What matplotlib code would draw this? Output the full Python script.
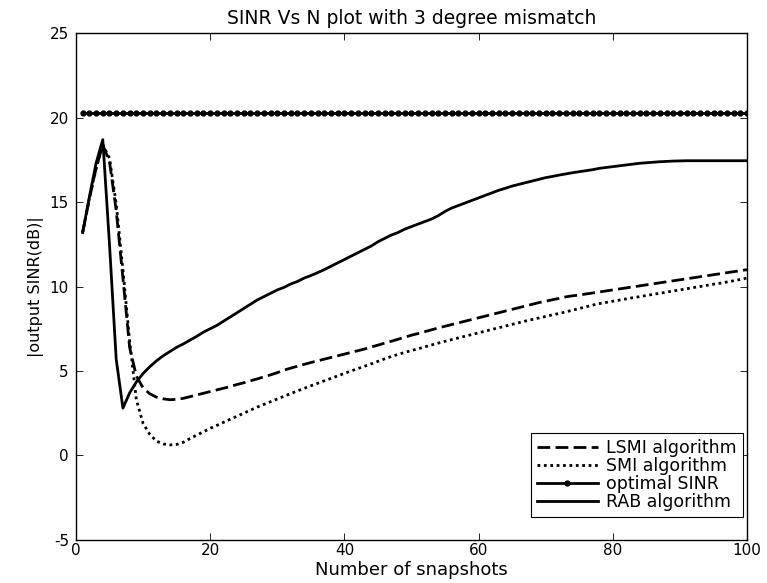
import matplotlib.pyplot as plt
import numpy as np

plt.rcParams["font.family"] = ["DejaVu Sans"]
plt.rcParams["axes.unicode_minus"] = False

snapshots = list(range(1, 101))

lsmi = [
    13.2, 15.2, 17.0, 18.4, 17.4, 14.5, 10.5, 6.4, 4.7, 4.0,
    3.65, 3.45, 3.35, 3.3, 3.32, 3.38, 3.48, 3.58, 3.68, 3.78,
    3.88, 3.98, 4.08, 4.2, 4.3, 4.42, 4.53, 4.65, 4.77, 4.9,
    5.05, 5.17, 5.28, 5.39, 5.5, 5.6, 5.7, 5.8, 5.9, 6.0,
    6.1, 6.2, 6.3, 6.42, 6.53, 6.65, 6.76, 6.88, 7.0, 7.12,
    7.22, 7.33, 7.44, 7.55, 7.65, 7.75, 7.85, 7.95, 8.05, 8.15,
    8.25, 8.35, 8.45, 8.55, 8.65, 8.75, 8.85, 8.95, 9.05, 9.13,
    9.22, 9.3, 9.39, 9.45, 9.5, 9.56, 9.62, 9.68, 9.74, 9.8,
    9.86, 9.92, 9.98, 10.04, 10.1, 10.16, 10.22, 10.28, 10.34, 10.4,
    10.46, 10.52, 10.58, 10.64, 10.7, 10.76, 10.82, 10.88, 10.94, 11.0,
]

smi = [
    13.2, 15.2, 17.0, 18.4, 17.6, 14.9, 11.0, 6.8, 3.3, 1.9,
    1.25, 0.85, 0.68, 0.62, 0.65, 0.78, 1.0, 1.2, 1.4, 1.6,
    1.78, 1.96, 2.14, 2.32, 2.5, 2.68, 2.86, 3.02, 3.18, 3.34,
    3.5, 3.66, 3.82, 3.97, 4.12, 4.27, 4.42, 4.56, 4.71, 4.86,
    5.0, 5.14, 5.28, 5.42, 5.57, 5.72, 5.86, 5.98, 6.1, 6.21,
    6.32, 6.43, 6.54, 6.65, 6.76, 6.86, 6.96, 7.06, 7.16, 7.26,
    7.36, 7.46, 7.56, 7.66, 7.76, 7.86, 7.96, 8.05, 8.14, 8.23,
    8.32, 8.41, 8.5, 8.6, 8.7, 8.8, 8.9, 8.99, 9.06, 9.13,
    9.2, 9.27, 9.34, 9.4, 9.47, 9.54, 9.6, 9.67, 9.74, 9.8,
    9.87, 9.94, 10.0, 10.07, 10.14, 10.2, 10.27, 10.34, 10.42, 10.5,
]

rab = [
    13.2, 15.3, 17.3, 18.7, 12.5, 5.7, 2.8, 3.7, 4.35, 4.85,
    5.25, 5.6, 5.9, 6.15, 6.4, 6.6, 6.83, 7.05, 7.3, 7.5,
    7.7, 7.95, 8.2, 8.45, 8.7, 8.95, 9.2, 9.4, 9.6, 9.8,
    9.95, 10.15, 10.3, 10.5, 10.65, 10.82, 11.0, 11.2, 11.4, 11.6,
    11.8, 12.0, 12.2, 12.4, 12.65, 12.85, 13.05, 13.2, 13.4, 13.55,
    13.7, 13.85, 14.0, 14.2, 14.45, 14.65, 14.8, 14.95, 15.1, 15.25,
    15.4, 15.55, 15.7, 15.82, 15.95, 16.05, 16.15, 16.25, 16.35, 16.45,
    16.52, 16.6, 16.67, 16.74, 16.8, 16.86, 16.92, 17.0, 17.05, 17.1,
    17.15, 17.2, 17.25, 17.3, 17.33, 17.36, 17.39, 17.41, 17.43, 17.44,
    17.45, 17.45, 17.45, 17.45, 17.45, 17.45, 17.45, 17.45, 17.45, 17.45,
]

# optimal SINR is flat over all snapshot counts
optimal_sinr = [20.3] * len(snapshots)

x_ticks = [0, 20, 40, 60, 80, 100]
y_ticks = [-5, 0, 5, 10, 15, 20, 25]


def plot_sinr():
    fig = plt.figure(figsize=(7.67, 5.83), dpi=100)
    ax = fig.add_axes([0.099, 0.074, 0.875, 0.869])

    ax.plot(snapshots, lsmi, "k--", linewidth=2.0, dashes=(4.6, 1.9),
            label="LSMI algorithm")
    ax.plot(snapshots, smi, "k:", linewidth=2.0, dashes=(1.0, 1.3),
            label="SMI algorithm")
    ax.plot(snapshots, optimal_sinr, "k-", linewidth=2.0, marker=".",
            markersize=7, label="optimal SINR")
    ax.plot(snapshots, rab, "k-", linewidth=2.0, label="RAB algorithm")

    ax.set_xlim(0, 100)
    ax.set_ylim(-5, 25)
    ax.set_xticks(x_ticks)
    ax.set_yticks(y_ticks)
    ax.tick_params(direction="in", length=5, width=0.6, top=True, right=True,
                   labelsize=11)
    ax.tick_params(axis="x", pad=2)
    ax.tick_params(axis="y", pad=5)
    for spine in ax.spines.values():
        spine.set_linewidth(1.0)

    ax.set_title("SINR Vs N plot with 3 degree mismatch", fontsize=13.5, pad=7)
    ax.set_xlabel("Number of snapshots", fontsize=13, va="top")
    ax.xaxis.set_label_coords(0.5, -0.0425)
    ax.set_ylabel("|output SINR(dB)|", fontsize=11.5, labelpad=4)

    leg = ax.legend(loc="lower right", bbox_to_anchor=(0.994, 0.045),
                    borderaxespad=0, fontsize=12.5, numpoints=1,
                    handlelength=3.5, handletextpad=0.5, labelspacing=0.0,
                    borderpad=0.35, fancybox=False, framealpha=1)
    leg.get_frame().set_edgecolor("black")
    leg.get_frame().set_linewidth(0.8)

    fig.savefig("out.png", dpi=100)


if __name__ == "__main__":
    plot_sinr()
